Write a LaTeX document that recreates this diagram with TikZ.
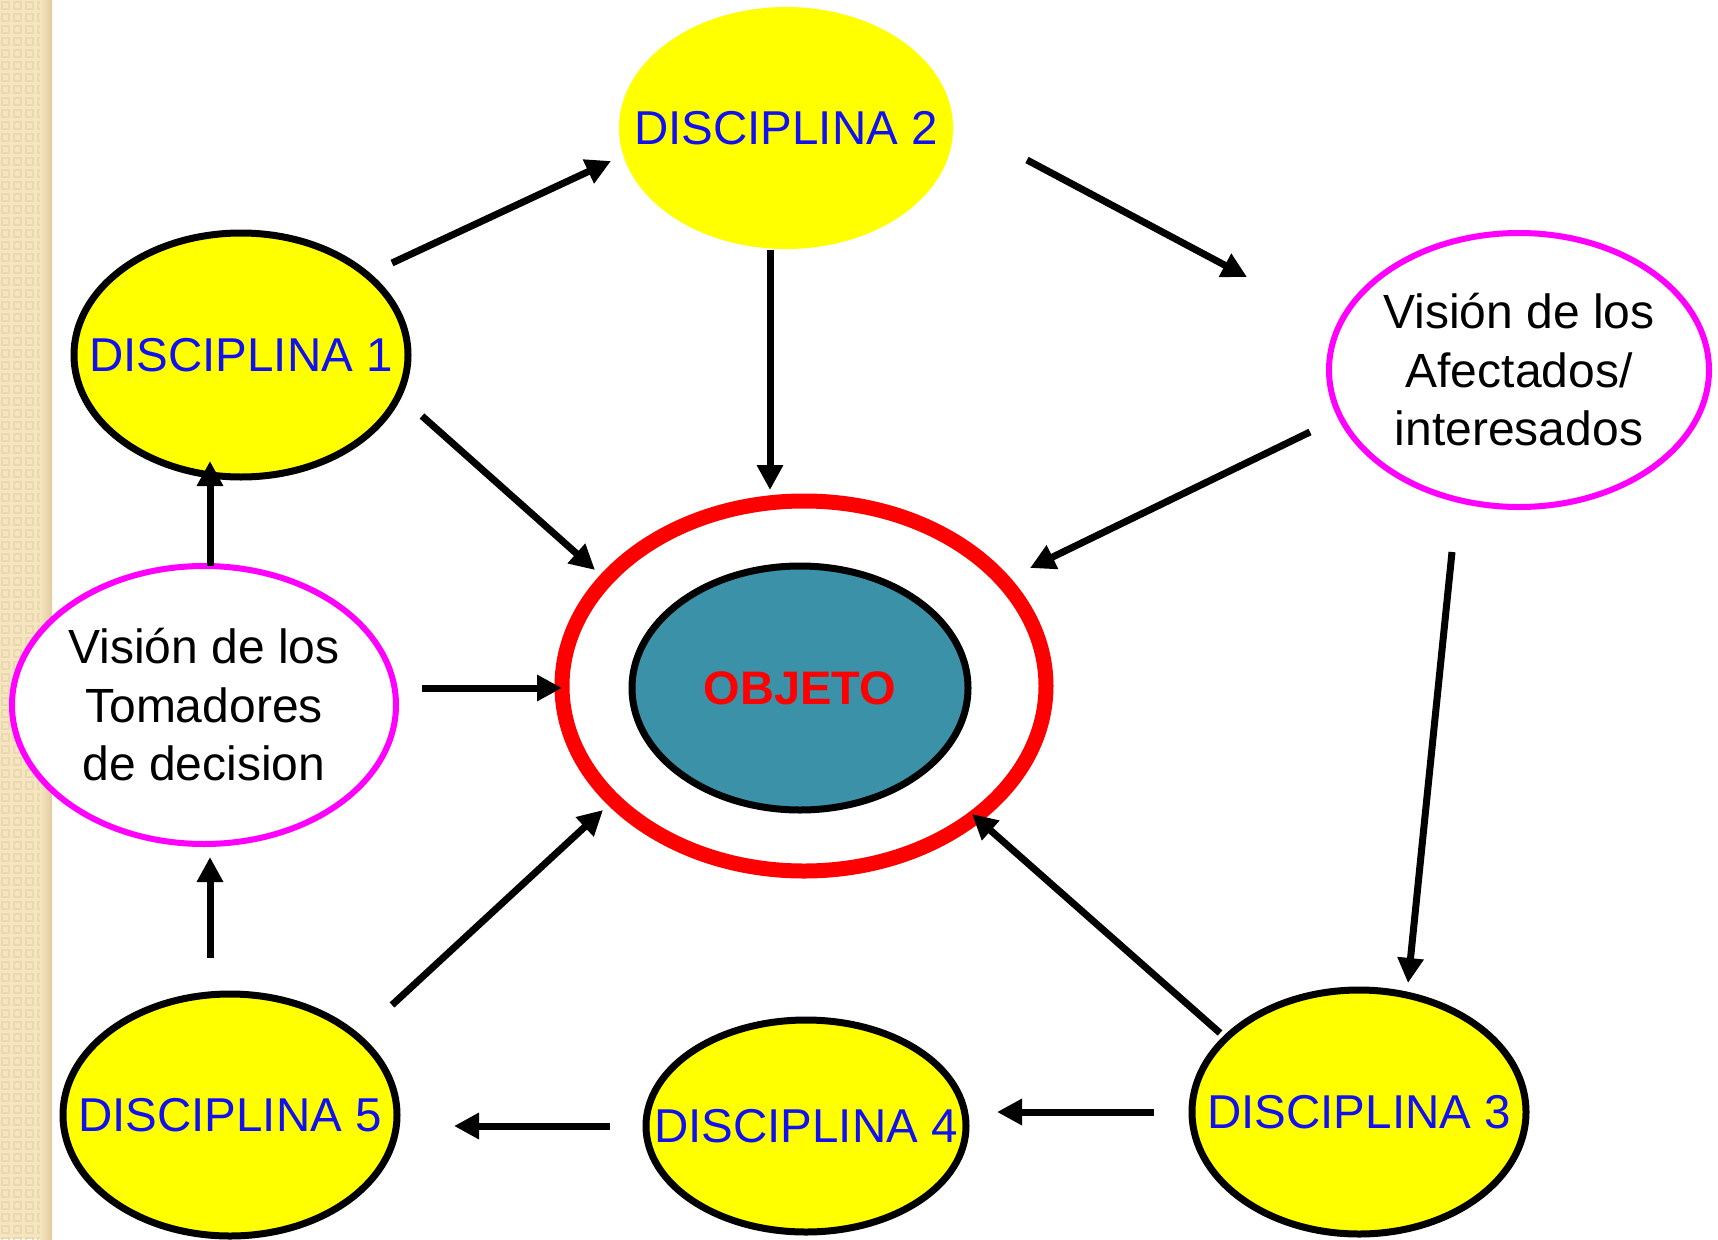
\documentclass[tikz,border=0pt]{standalone}
\usepackage{fontspec}
\setmainfont{Liberation Sans}
\usetikzlibrary{shapes.geometric,arrows.meta,calc}
\definecolor{beige}{HTML}{F5E6C0}
\definecolor{beigedark}{HTML}{E9D8B0}
\definecolor{teal}{HTML}{3A91A8}
\definecolor{txtblue}{HTML}{1010F0}
\definecolor{mag}{HTML}{FF00FF}
\definecolor{yel}{HTML}{FFFF00}
\tikzset{
  disc/.style={ellipse, draw=black, line width=7pt, fill=yel, inner sep=0pt},
  disctext/.style={text=txtblue, inner sep=0pt, font=\fontsize{47.5}{52}\selectfont},
  vision/.style={ellipse, draw=mag, line width=6pt, fill=white, inner sep=0pt},
  visiontext/.style={align=center, inner sep=0pt, font=\fontsize{48}{58.5}\selectfont},
  arr/.style={line width=7pt, -{Triangle[length=25pt,width=25pt]}},
}
\begin{document}
\begin{tikzpicture}[x=1pt,y=-1pt]
\useasboundingbox (0,0) rectangle (1718,1239);
\fill[white] (0,0) rectangle (1718,1239);
% left decorative strip
\fill[beige] (0,0) rectangle (52,1239);
\foreach \j in {0,...,103}{
  \foreach \i in {0,...,3}{
    \draw[beigedark, line width=1.2pt] (\i*12+2,\j*12+2) rectangle (\i*12+9,\j*12+9);
  }
}
\shade[left color=beige, right color=beigedark!85!brown] (40,0) rectangle (52,1239);

% nodes
\node[disc, draw=none, minimum width=334pt, minimum height=242pt] (d2) at (786,128) {};
\node[disctext] (d2t) at (d2) {DISCIPLINA 2};
\node[disc, minimum width=334pt, minimum height=244pt] (d1) at (241,355) {};
\node[disctext] (d1t) at (d1) {DISCIPLINA 1};
\node[vision, minimum width=380pt, minimum height=274pt] (af) at (1519,370) {};
\node[visiontext] (aft) at (af) {Visión de los\\Afectados/\\interesados};
\node[vision, minimum width=384pt, minimum height=278pt] (tm) at (204,705) {};
\node[visiontext] (tmt) at (tm) {Visión de los\\Tomadores\\de decision};
\node[ellipse, draw=red, line width=15pt, minimum width=484pt, minimum height=370pt, inner sep=0pt] (ob) at (804,686) {};
\node[ellipse, draw=black, line width=7pt, fill=teal, minimum width=336pt, minimum height=244pt, inner sep=0pt] (oi) at (800,688) {};
\node[text=red, inner sep=0pt, font=\fontsize{47}{52}\selectfont\bfseries] (oit) at (oi) {OBJETO};
\node[disc, minimum width=334pt, minimum height=242pt] (d5) at (230,1115) {};
\node[disctext] (d5t) at (d5) {DISCIPLINA 5};
\node[disc, minimum width=320pt, minimum height=212pt] (d4) at (806,1126) {};
\node[disctext] (d4t) at (d4) {DISCIPLINA 4};
\node[disc, minimum width=334pt, minimum height=244pt] (d3) at (1359,1112) {};
\node[disctext] (d3t) at (d3) {DISCIPLINA 3};

% connectors
\draw[arr] ($(d1)+(151,-92)$) -- ($(d2)+(-175,33)$);
\draw[arr] ($(d2)+(241,32)$) -- ($(af)+(-272,-93)$);
\draw[arr] ($(d2)+(-16,122)$) -- ($(ob)+(-34,-196)$);
\draw[arr] ($(d1)+(181,61)$) -- ($(ob)+(-209,-116)$);
\draw[arr] ($(af)+(-209,62)$) -- ($(ob)+(226,-118)$);
\draw[arr] ($(tm)+(6,-139)$) -- ($(d1)+(-31,106)$);
\draw[arr] ($(tm)+(218,-17)$) -- ($(ob)+(-242,2)$);
\draw[arr] ($(af)+(-67,182)$) -- ($(d3)+(49,-129)$);
\draw[arr] ($(d5)+(-20,-157)$) -- ($(tm)+(6,152)$);
\draw[arr] ($(d5)+(162,-110)$) -- ($(ob)+(-201,124)$);
\draw[arr] ($(d3)+(-139,-79)$) -- ($(ob)+(168,128)$);
\draw[arr] ($(d3)+(-205,0)$) -- ($(d4)+(191,-14)$);
\draw[arr] ($(d4)+(-196,0)$) -- ($(d5)+(224,11)$);
\end{tikzpicture}
\end{document}
